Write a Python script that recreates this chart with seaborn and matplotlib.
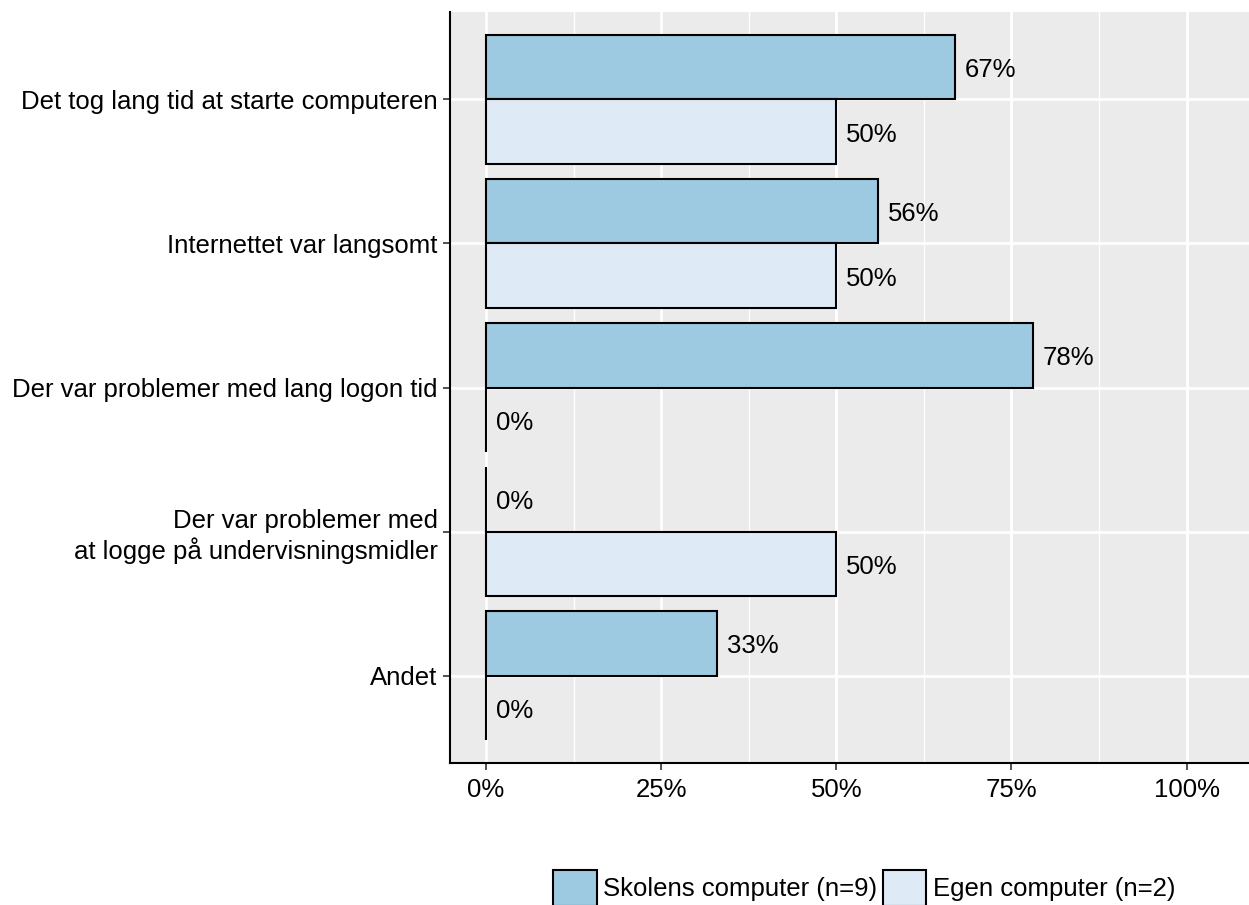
import matplotlib
matplotlib.use("Agg")
import matplotlib.pyplot as plt
import seaborn as sns
import pandas as pd
import numpy as np
from matplotlib.patches import Patch

categories = [
    "Det tog lang tid at starte computeren",
    "Internettet var langsomt",
    "Der var problemer med lang logon tid",
    "Der var problemer med\nat logge på undervisningsmidler",
    "Andet",
]
series = ["Skolens computer (n=9)", "Egen computer (n=2)"]
skolens = [0.67, 0.56, 0.78, 0.0, 0.33]
egen = [0.50, 0.50, 0.0, 0.50, 0.0]
colors = ["#9ECAE1", "#DEEBF7"]
xticks = [0, 0.25, 0.5, 0.75, 1.0]
xticklabels = ["0%", "25%", "50%", "75%", "100%"]

df = pd.DataFrame({
    "cat": categories * 2,
    "series": [series[0]] * 5 + [series[1]] * 5,
    "val": skolens + egen,
})

sns.set_theme(style="white")
plt.rcParams["font.family"] = ["Liberation Sans", "DejaVu Sans"]
plt.rcParams["text.color"] = "black"
FS = 18.5

fig = plt.figure(figsize=(12.49, 9.05), dpi=100)
ax = fig.add_axes([0.3603, 0.1569, 0.6397, 0.8298])
ax.set_facecolor("#EBEBEB")

sns.barplot(data=df, y="cat", x="val", hue="series", order=categories,
            hue_order=series, palette=colors, orient="h", width=0.9,
            edgecolor="black", linewidth=1.5, saturation=1, ax=ax,
            legend=False, errorbar=None)

# value labels
for cont, vals in zip(ax.containers, [skolens, egen]):
    for rect, v in zip(cont, vals):
        y = rect.get_y() + rect.get_height() / 2
        ax.annotate(f"{round(v*100):.0f}%", xy=(v, y), xytext=(7, -2),
                    textcoords="offset points", ha="left", va="center",
                    fontsize=FS, color="black")

ax.set_xticks(xticks)
ax.set_xticklabels(xticklabels)
ax.set_xticks([0.125, 0.375, 0.625, 0.875], minor=True)
ax.set_xlim(-0.0514, 1.089)
ax.set_ylim(4.607, -0.607)
ax.grid(True, which="major", color="white", linewidth=2)
ax.grid(True, which="minor", axis="x", color="white", linewidth=1)
ax.set_axisbelow(True)
ax.set_xlabel("")
ax.set_ylabel("")

for s in ["top", "right"]:
    ax.spines[s].set_visible(False)
for s in ["left", "bottom"]:
    ax.spines[s].set_visible(True)
    ax.spines[s].set_color("black")
    ax.spines[s].set_linewidth(1.5)

ax.tick_params(axis="both", which="major", length=5, width=1.2, color="#333333",
               labelsize=FS, labelcolor="black", direction="out", pad=4)
ax.tick_params(axis="x", which="major", pad=6)
ax.tick_params(axis="x", which="minor", length=0)
ax.tick_params(left=True, bottom=True)

handles = [Patch(facecolor=c, edgecolor="black", linewidth=1.5) for c in colors]
fig.legend(handles, series, loc="center", bbox_to_anchor=(0.692, 0.019),
           ncol=2, frameon=False, fontsize=FS, handlelength=1.7,
           handleheight=1.75, handletextpad=0.25, columnspacing=0.2,
           borderaxespad=0, labelcolor="black")

fig.savefig("out.png", dpi=100)
